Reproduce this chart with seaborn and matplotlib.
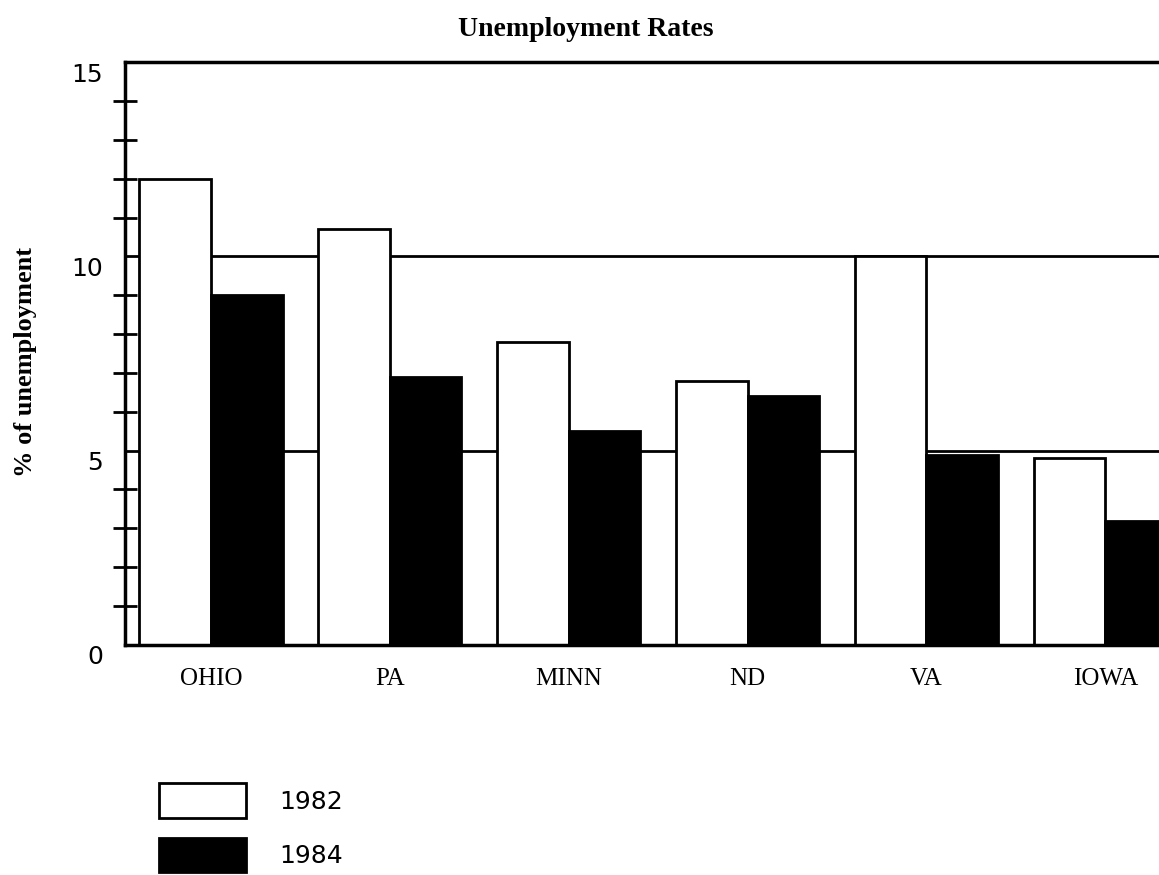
import pandas as pd
import matplotlib.pyplot as plt
import matplotlib.transforms as mtransforms
import seaborn as sns
from matplotlib.patches import Patch

# values
states = ['OHIO', 'PA', 'MINN', 'ND', 'VA', 'IOWA']
rate_1982 = [12.0, 10.7, 7.8, 6.8, 10.0, 4.8]
rate_1984 = [9.0, 6.9, 5.5, 6.4, 4.9, 3.2]
years = ['1982', '1984']
y_ticks = [0, 5, 10, 15]

df = pd.DataFrame({
    'state': states * 2,
    'rate': rate_1982 + rate_1984,
    'year': [years[0]] * len(states) + [years[1]] * len(states),
})

sns.set_style("white")
plt.rcParams.update({'text.color': 'black', 'axes.labelcolor': 'black',
                     'xtick.color': 'black', 'ytick.color': 'black'})
serif = ['Liberation Serif', 'DejaVu Serif']

fig = plt.figure(figsize=(11.59, 8.75), dpi=100)
ax = fig.add_axes([0.108, 0.263, 0.892, 0.666])

# reference lines at 5 and 10 sit behind the bars
for v in [5, 10]:
    ax.axhline(v, color='black', linewidth=2, zorder=0)

sns.barplot(data=df, x='state', y='rate', hue='year', order=states,
            palette={'1982': 'white', '1984': 'black'}, edgecolor='black',
            linewidth=2, width=0.8, ax=ax, legend=False, zorder=2)

ax.set_ylim(0, 15)
ax.set_xlim(-0.48, 5.3)
ax.set_yticks(y_ticks)
ax.set_yticks([v for v in range(1, 15) if v not in (5, 10)], minor=True)
ax.tick_params(axis='y', which='major', length=0, pad=16, labelsize=18)
ax.tick_params(axis='y', which='minor', left=True, direction='inout', length=17, width=2)
ax.tick_params(axis='x', length=0, pad=17)
for lab in ax.get_xticklabels():
    lab.set_family(serif)
    lab.set_fontsize(18)
# numbers in the scan sit a bit below their gridline
shift = mtransforms.ScaledTranslation(0, -10 / 100, fig.dpi_scale_trans)
for lab in ax.get_yticklabels():
    lab.set_transform(lab.get_transform() + shift)
ax.set_xlabel('')
ax.set_ylabel('')

for side in ['left', 'bottom', 'top']:
    ax.spines[side].set_linewidth(2.5)
    ax.spines[side].set_color('black')
ax.spines['right'].set_visible(False)

fig.suptitle('Unemployment Rates', x=0.505, y=0.966, va='center',
             family=serif, fontweight='bold', fontsize=20)
fig.text(0.022, 0.586, '% of unemployment', rotation=90, va='center', ha='center',
         family=serif, fontweight='bold', fontsize=19)

legend_elements = [Patch(facecolor='white', edgecolor='black', linewidth=2, label='1982'),
                   Patch(facecolor='black', edgecolor='black', linewidth=2, label='1984')]
fig.legend(handles=legend_elements, loc='lower left', bbox_to_anchor=(0.137, 0.003),
           frameon=False, fontsize=18, handlelength=3.5, handleheight=1.75,
           labelspacing=0.8, handletextpad=1.3, borderaxespad=0, borderpad=0)

fig.savefig('out.png', dpi=100)
